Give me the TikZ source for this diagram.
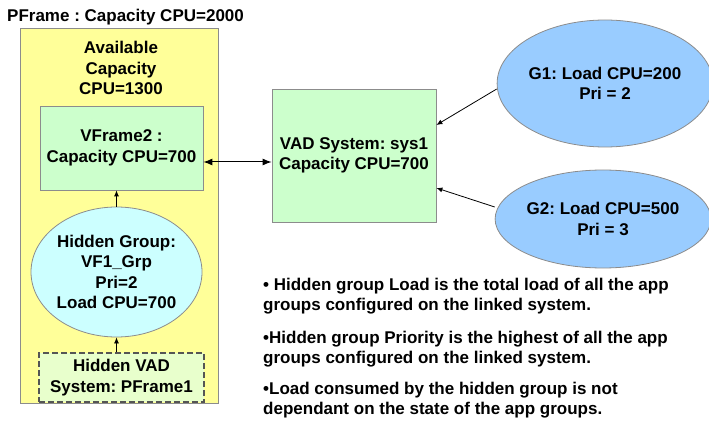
\documentclass[tikz,border=0pt]{standalone}
\usepackage{fontspec}
\setmainfont{Liberation Sans}
\usetikzlibrary{shapes.geometric,arrows.meta}
\definecolor{pyellow}{HTML}{FFFF99}
\definecolor{pgreen}{HTML}{CCFFCC}
\definecolor{pcyan}{HTML}{CCFFFF}
\definecolor{plime}{HTML}{E8FFCC}
\definecolor{pblue}{HTML}{99CCFF}
\definecolor{pborder}{HTML}{8C8C8C}
\definecolor{pdash}{HTML}{555555}
\tikzset{
  txt/.style={font=\frenchspacing\bfseries\fontsize{17}{20.5}\selectfont, inner sep=0pt, align=center},
  boxs/.style={draw=pborder, line width=0.8pt, inner sep=0pt, font=\frenchspacing\bfseries\fontsize{17}{20.5}\selectfont, align=center},
  ell/.style={ellipse, draw=pborder, line width=0.8pt, inner sep=0pt, font=\frenchspacing\bfseries\fontsize{17}{20.5}\selectfont, align=center},
  conn/.style={line width=0.8pt, -{Latex[length=6pt,width=5pt]}},
  bconn/.style={line width=1pt, {Latex[length=9pt,width=7pt]}-{Latex[length=9pt,width=7pt]}},
  note/.style={font=\frenchspacing\bfseries\fontsize{17}{20}\selectfont, inner sep=0pt, align=left, anchor=base west}
}
\begin{document}
\begin{tikzpicture}[x=1pt,y=-1pt]
\useasboundingbox (0,0) rectangle (709,422);
\fill[white] (0,0) rectangle (709,422);
% PFrame
\node[txt, anchor=west] (ptitle) at (7,17) {PFrame : Capacity CPU=2000};
\node[boxs, fill=pyellow, minimum width=198pt, minimum height=375pt] (pframe) at (119,215.5) {};
\node[txt] (avail) at (121,68) {Available\\Capacity\\CPU=1300};
\node[boxs, fill=pgreen, minimum width=163pt, minimum height=84pt] (vframe) at (121.5,148) {VFrame2 :\\Capacity CPU=700};
\node[ell, fill=pcyan, minimum width=171pt, minimum height=130pt] (hgrp) at (116.5,272) {Hidden Group:\\VF1\_Grp\\Pri=2\\Load CPU=700};
\node[boxs, draw=pdash, line width=1.2pt, dash pattern=on 6pt off 3pt, fill=plime, minimum width=165pt, minimum height=49pt] (hvad) at (121.5,377.5) {Hidden VAD\\System: PFrame1};
% right side
\node[boxs, fill=pgreen, minimum width=164pt, minimum height=133pt] (vad) at (354,155.5) {VAD System: sys1\\Capacity CPU=700};
\node[ell, fill=pblue, minimum width=186pt, minimum height=127pt] (g1) at (605,83.5) {G1: Load CPU=200\\Pri = 2};
\node[ell, fill=pblue, minimum width=188pt, minimum height=98pt] (g2) at (603,219) {G2: Load CPU=500\\Pri = 3};
% connectors
\draw[conn] (hvad.north -| hgrp.south) -- (hgrp.south);
\draw[conn] (hgrp.north) -- (hgrp.north |- vframe.south);
\draw[bconn] (vframe.east |- 0,162) -- (vad.west |- 0,162);
\draw[conn] (g1.west |- 0,89) -- (vad.east |- 0,125);
\draw[conn] (g2.west |- 0,207) -- (vad.east |- 0,188);
% notes
\node[note] (n1) at (263,310.5) {• Hidden group Load is the total load of all the app\\groups configured on the linked system.};
\node[note] (n2) at (263,363) {•Hidden group Priority is the highest of all the app\\groups configured on the linked system.};
\node[note] (n3) at (263,414) {•Load consumed by the hidden group is not\\dependant on the state of the app groups.};
\end{tikzpicture}
\end{document}
